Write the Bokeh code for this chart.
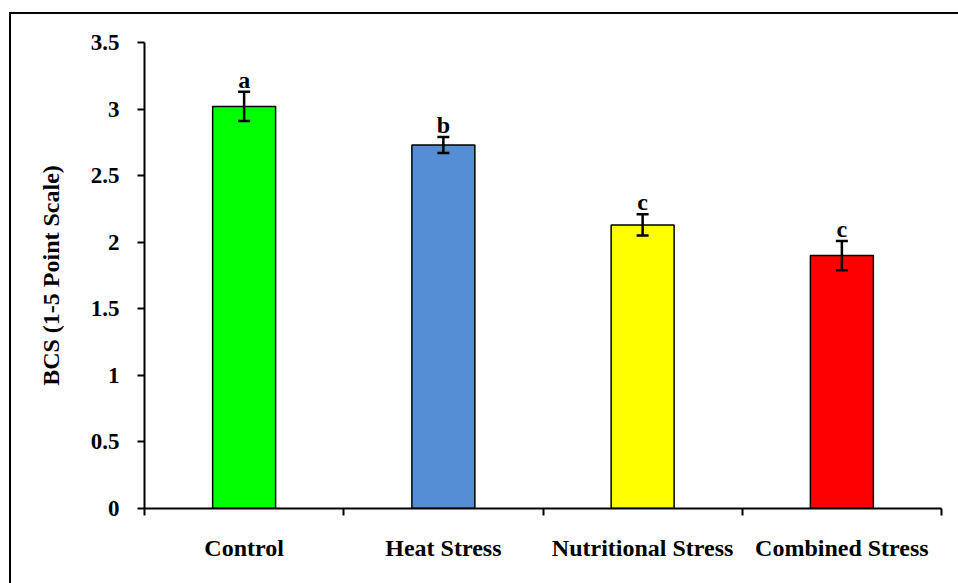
from bokeh.plotting import figure
from bokeh.models import ColumnDataSource, Whisker, FixedTicker, Range1d
from bokeh.core.properties import value
from bokeh.embed import file_html
from bokeh.resources import INLINE

categories = ["Control", "Heat Stress", "Nutritional Stress", "Combined Stress"]
bcs_mean = [3.02, 2.73, 2.13, 1.90]
bcs_err = [0.11, 0.06, 0.08, 0.11]
letters = ["a", "b", "c", "c"]
colors = ["#00FF00", "#558ED5", "#FFFF00", "#FF0000"]
y_ticks = [0, 0.5, 1, 1.5, 2, 2.5, 3, 3.5]
y_tick_labels = ["0", "0.5", "1", "1.5", "2", "2.5", "3", "3.5"]

FONT = "Liberation Serif"

xpos = [i + 0.5 for i in range(len(categories))]
src = ColumnDataSource(dict(
    x=xpos, top=bcs_mean, color=colors,
    upper=[m + e for m, e in zip(bcs_mean, bcs_err)],
    lower=[m - e for m, e in zip(bcs_mean, bcs_err)],
    letter=letters,
))

p = figure(width=950, height=575, output_backend="svg", toolbar_location=None,
           x_range=Range1d(0, len(categories)), y_range=Range1d(0, 3.5),
           min_border_left=133, min_border_right=20, min_border_top=28, min_border_bottom=81)
p.styles = {"border-left": "2px solid black", "border-top": "2px solid black",
            "margin-left": "9px", "margin-top": "12px"}
p.outline_line_color = None
p.xgrid.visible = False
p.ygrid.visible = False
p.background_fill_color = "white"
p.border_fill_color = "white"

p.vbar(x="x", top="top", width=0.316, bottom=0, fill_color="color",
       line_color="black", line_width=1.5, source=src)

w = Whisker(base="x", upper="upper", lower="lower", source=src,
            line_color="black", line_width=2.5, level="overlay")
w.upper_head.size = 12
w.lower_head.size = 12
w.upper_head.line_width = 2.5
w.lower_head.line_width = 2.5
w.upper_head.line_color = "black"
w.lower_head.line_color = "black"
p.add_layout(w)

p.text(x="x", y="upper", text="letter", source=src, text_align="center",
       text_baseline="bottom", y_offset=1,
       text_font=value(FONT), text_font_style="bold", text_font_size="24px",
       text_color="black")

# x axis
xa = p.xaxis[0]
xa.ticker = FixedTicker(ticks=xpos, minor_ticks=[0, 1, 2, 3, 4])
xa.major_label_overrides = {x: c for x, c in zip(xpos, categories)}
xa.major_tick_out = 0
xa.major_tick_in = 0
xa.minor_tick_out = 7
xa.minor_tick_in = 0
xa.minor_tick_line_width = 2
xa.minor_tick_line_color = "black"
xa.axis_line_width = 2
xa.axis_line_color = "black"
xa.major_label_text_font = FONT
xa.major_label_text_font_style = "bold"
xa.major_label_text_font_size = "24px"
xa.major_label_text_color = "black"
xa.major_label_standoff = 19

# y axis
ya = p.yaxis[0]
ya.ticker = FixedTicker(ticks=y_ticks, minor_ticks=[])
ya.major_label_overrides = {t: l for t, l in zip(y_ticks, y_tick_labels)}
ya.major_tick_out = 7
ya.major_tick_in = 0
ya.major_tick_line_width = 2
ya.major_tick_line_color = "black"
ya.minor_tick_out = 0
ya.minor_tick_in = 0
ya.axis_line_width = 2
ya.axis_line_color = "black"
ya.major_label_text_font = FONT
ya.major_label_text_font_style = "bold"
ya.major_label_text_font_size = "23px"
ya.major_label_text_color = "black"
ya.major_label_standoff = 18
ya.axis_label = "BCS (1-5 Point Scale)"
ya.axis_label_text_font = FONT
ya.axis_label_text_font_style = "bold"
ya.axis_label_text_font_size = "24px"
ya.axis_label_text_color = "black"
ya.axis_label_standoff = 24

open("out.html", "w").write(file_html(p, INLINE))
